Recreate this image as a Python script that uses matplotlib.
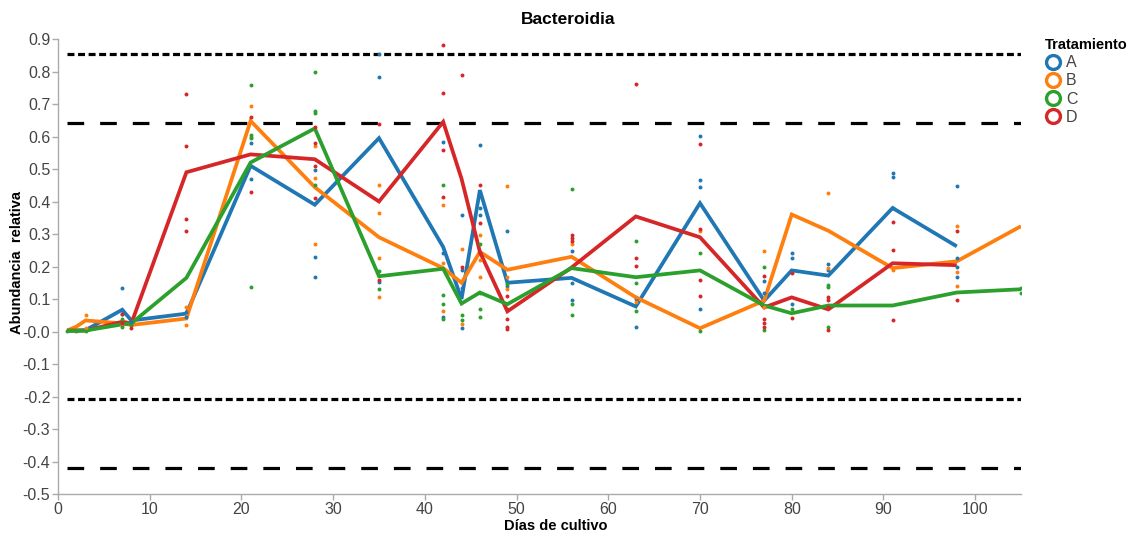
import numpy as np
import matplotlib
matplotlib.use("Agg")
import matplotlib.pyplot as plt
from matplotlib.lines import Line2D

plt.rcParams['font.family'] = ['Liberation Sans', 'DejaVu Sans']
plt.rcParams['lines.scale_dashes'] = False

nan = np.nan

# Sampling days
days = [1, 2, 3, 7, 8, 14, 21, 28, 35, 42, 44, 46, 49, 56, 63, 70, 77, 80, 84, 91, 98, 105]

# Mean relative abundance per treatment
mean_A = [0.003, 0.003, 0.004, 0.067, 0.034, 0.055, 0.51, 0.39, 0.595, 0.26, 0.10, 0.435,
          0.15, 0.165, 0.077, 0.395, 0.095, 0.188, 0.172, 0.38, 0.262, nan]
mean_B = [0.003, 0.015, 0.034, 0.025, 0.02, 0.04, 0.648, 0.444, 0.29, 0.195, 0.15, 0.245,
          0.19, 0.23, 0.105, 0.01, 0.095, 0.36, 0.31, 0.195, 0.216, 0.324]
mean_C = [0.002, 0.002, 0.003, 0.022, 0.025, 0.165, 0.52, 0.625, 0.17, 0.193, 0.086, 0.12,
          0.084, 0.195, 0.167, 0.188, 0.08, 0.056, 0.08, 0.08, 0.12, 0.13]
mean_D = [0.003, 0.003, 0.003, 0.03, 0.025, 0.49, 0.545, 0.53, 0.40, 0.645, 0.47, 0.245,
          0.062, 0.197, 0.354, 0.29, 0.074, 0.105, 0.068, 0.21, 0.204, nan]

# Individual replicates (day, value)
rep_A_days = [7, 7, 7, 8, 14, 14, 21, 21, 28, 28, 28, 35, 35, 35, 42, 42, 42, 44, 44, 44, 44,
              46, 46, 46, 49, 49, 56, 56, 56, 63, 63, 70, 70, 70, 70, 77, 77, 80, 80, 80,
              84, 84, 91, 91, 91, 98, 98, 98, 98]
rep_A_vals = [0.135, 0.065, 0.055, 0.03, 0.06, 0.045, 0.47, 0.58, 0.497, 0.23, 0.167, 0.854,
              0.783, 0.152, 0.583, 0.243, 0.046, 0.36, 0.188, 0.133, 0.012, 0.573, 0.38, 0.358,
              0.308, 0.14, 0.247, 0.15, 0.098, 0.015, 0.10, 0.601, 0.466, 0.444, 0.068, 0.155,
              0.117, 0.243, 0.225, 0.086, 0.207, 0.19, 0.487, 0.475, 0.38, 0.447, 0.225, 0.197,
              0.167]
rep_B_days = [3, 3, 7, 14, 14, 21, 21, 28, 28, 28, 35, 35, 35, 35, 42, 42, 42, 44, 44, 46, 46,
              46, 49, 49, 49, 56, 63, 63, 70, 77, 77, 84, 84, 91, 98, 98, 98]
rep_B_vals = [0.05, 0.01, 0.02, 0.075, 0.02, 0.694, 0.60, 0.57, 0.473, 0.27, 0.45, 0.364,
              0.226, 0.106, 0.39, 0.21, 0.062, 0.253, 0.024, 0.296, 0.22, 0.167, 0.447, 0.167,
              0.132, 0.27, 0.105, 0.09, 0.308, 0.247, 0.074, 0.425, 0.195, 0.19, 0.324, 0.182,
              0.139]
rep_C_days = [1, 2, 3, 7, 7, 8, 21, 21, 21, 21, 28, 28, 28, 28, 35, 35, 42, 42, 42, 42, 44, 44,
              46, 46, 46, 46, 49, 56, 56, 56, 63, 63, 63, 70, 70, 77, 77, 80, 84, 84, 84, 105, 105]
rep_C_vals = [0.003, 0.002, 0.003, 0.04, 0.015, 0.02, 0.757, 0.605, 0.595, 0.136, 0.80, 0.678,
              0.672, 0.45, 0.186, 0.132, 0.45, 0.113, 0.086, 0.04, 0.05, 0.034, 0.27, 0.12, 0.07,
              0.044, 0.145, 0.44, 0.086, 0.052, 0.277, 0.148, 0.062, 0.243, 0.003, 0.197, 0.005,
              0.07, 0.142, 0.136, 0.013, 0.135, 0.12]
rep_D_days = [7, 7, 8, 14, 14, 14, 14, 21, 21, 28, 28, 28, 28, 35, 35, 42, 42, 42, 42, 44, 44,
              46, 46, 46, 49, 49, 49, 49, 49, 56, 56, 56, 63, 63, 63, 70, 70, 70, 70, 77, 77, 77,
              77, 80, 80, 84, 84, 84, 84, 91, 91, 91, 98, 98]
rep_D_vals = [0.055, 0.025, 0.01, 0.73, 0.57, 0.345, 0.31, 0.66, 0.43, 0.63, 0.58, 0.51, 0.41,
              0.64, 0.16, 0.882, 0.733, 0.558, 0.413, 0.79, 0.197, 0.45, 0.333, 0.243, 0.11, 0.07,
              0.037, 0.015, 0.009, 0.296, 0.287, 0.278, 0.762, 0.225, 0.203, 0.576, 0.315, 0.16,
              0.108, 0.17, 0.04, 0.025, 0.015, 0.18, 0.043, 0.107, 0.098, 0.074, 0.005, 0.337,
              0.25, 0.036, 0.308, 0.098]

# Reference limits
limits_short = [0.855, -0.207]
limits_long = [0.641, -0.419]

treatments = ['A', 'B', 'C', 'D']
colors = {'A': '#1f77b4', 'B': '#ff7f0e', 'C': '#2ca02c', 'D': '#d62728'}
means = {'A': mean_A, 'B': mean_B, 'C': mean_C, 'D': mean_D}
reps = {'A': (rep_A_days, rep_A_vals), 'B': (rep_B_days, rep_B_vals),
        'C': (rep_C_days, rep_C_vals), 'D': (rep_D_days, rep_D_vals)}

fig = plt.figure(figsize=(11.3, 5.33), dpi=100)
ax = fig.add_axes([58 / 1130, 1 - 494 / 533, (1021 - 58) / 1130, (494 - 39) / 533])

for y in limits_short:
    ax.plot([1, 105], [y, y], color='black', lw=2.3, dashes=(5, 2.6), zorder=2)
for y in limits_long:
    ax.plot([1, 105], [y, y], color='black', lw=2.3, dashes=(12, 11.5), zorder=2)

line_order = ['A', 'B', 'D', 'C']
for i, t in enumerate(line_order):
    ax.plot(days, means[t], color=colors[t], lw=2.7, zorder=3 + i * 0.1,
            solid_joinstyle='miter', solid_capstyle='butt')

for t in treatments:
    d, v = reps[t]
    ax.scatter(d, v, s=8, color=colors[t], zorder=5, linewidths=0)

ax.set_xlim(0, 105)
ax.set_ylim(-0.5, 0.9)
ax.set_xticks(np.arange(0, 101, 10))
yt = np.round(np.arange(-0.5, 0.91, 0.1), 1)
ax.set_yticks(yt)
ax.set_yticklabels([f"{v:.1f}" for v in yt])

for side in ['top', 'right']:
    ax.spines[side].set_visible(False)
for side in ['left', 'bottom']:
    ax.spines[side].set_color('#aaaaaa')
    ax.spines[side].set_linewidth(1.0)
ax.tick_params(direction='out', length=4, width=1, color='#aaaaaa', pad=1.5,
               labelsize=11.5, labelcolor='#444444')

fig.text(568 / 1130, 1 - 20 / 533, 'Bacteroidia', ha='center', va='center',
         fontsize=12.5, fontweight='bold')
fig.text(556 / 1130, 1 - 526 / 533, 'Días de cultivo', ha='center', va='center',
         fontsize=10.5, fontweight='bold')
fig.text(17 / 1130, 1 - 262 / 533, 'Abundancia  relativa', ha='center', va='center',
         rotation=90, fontsize=10.5, fontweight='bold')

handles = [Line2D([], [], ls='none', marker='o', markersize=10, markerfacecolor='none',
                  markeredgewidth=2.4, markeredgecolor=colors[t], label=t) for t in treatments]
leg = fig.legend(handles=handles, title='Tratamiento', loc='upper left',
                 bbox_to_anchor=(1045 / 1130, 1 - 38 / 533), frameon=False,
                 borderaxespad=0, fontsize=11.5,
                 title_fontproperties={'weight': 'bold', 'size': 10.5},
                 handletextpad=0.3, labelspacing=0.2, borderpad=0, handlelength=1.0,
                 alignment='left')
for txt in leg.get_texts():
    txt.set_color('#444444')

fig.savefig('out.png', dpi=100)
